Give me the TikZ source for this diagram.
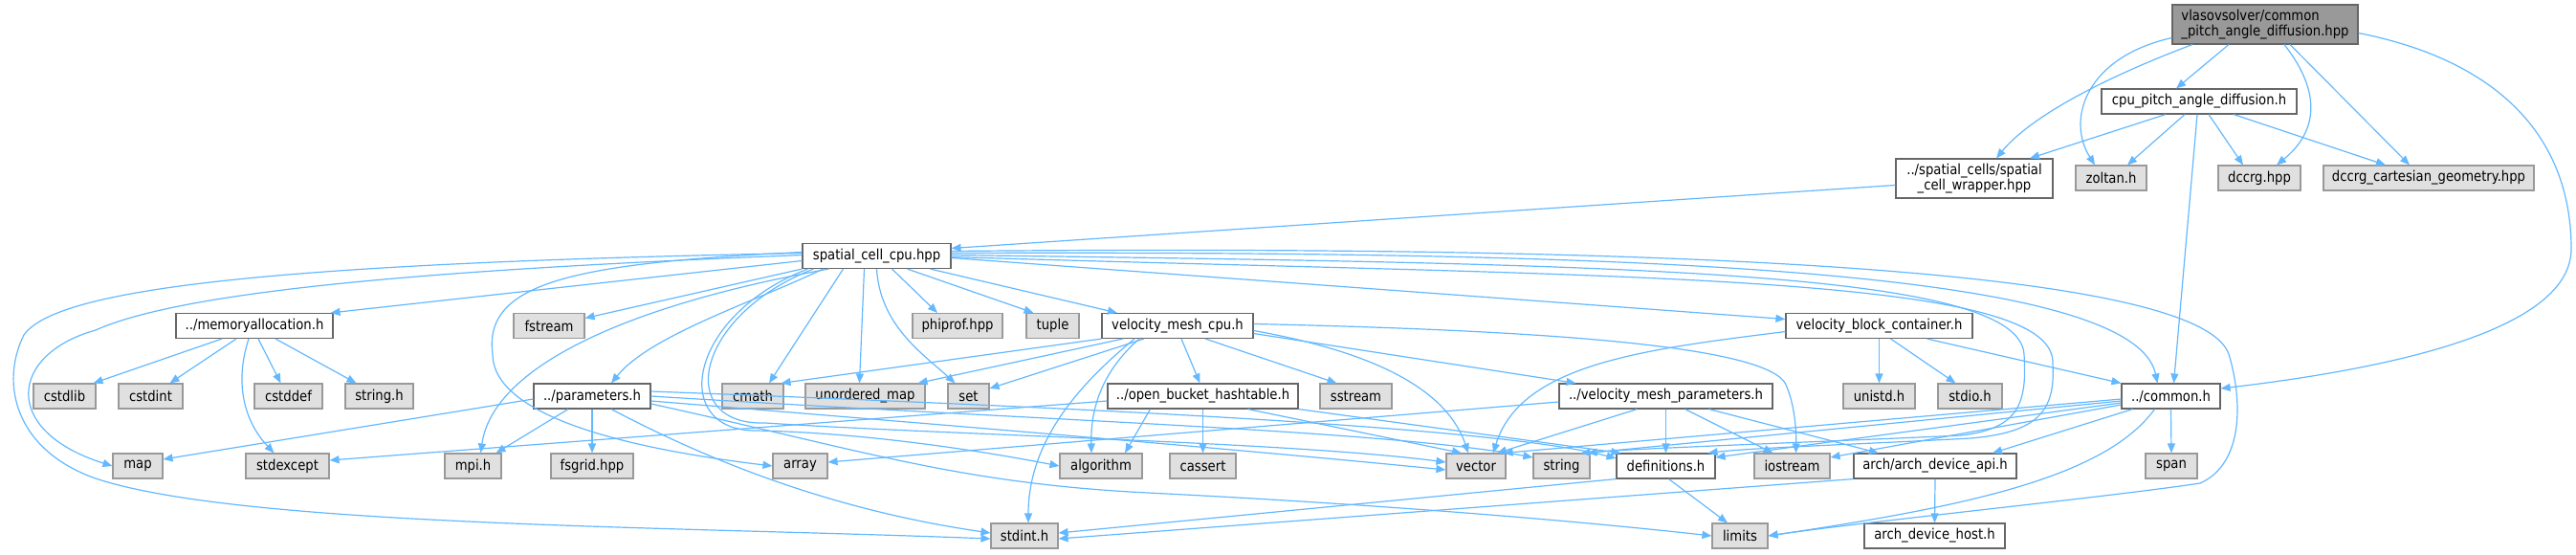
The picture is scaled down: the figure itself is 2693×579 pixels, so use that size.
\documentclass[tikz,border=0pt]{standalone}
\usepackage{fontspec}
\newfontfamily\dfont{DejaVu Sans}[FakeStretch=0.88]
\usetikzlibrary{arrows.meta}
\definecolor{edgec}{HTML}{63B8FF}
\definecolor{bdark}{HTML}{666666}
\definecolor{blight}{HTML}{999999}
\definecolor{gfill}{HTML}{E0E0E0}
\definecolor{mfill}{HTML}{999999}
\begin{document}
\begin{tikzpicture}[x=1pt,y=-1pt,
  nd/.style={rectangle, line width=1.1pt, minimum height=26pt, inner xsep=0pt, inner ysep=0pt, font=\dfont\fontsize{15}{16}\selectfont, text=black},
  filebox/.style={nd, draw=bdark, fill=white},
  sysbox/.style={nd, draw=blight, fill=gfill},
  mainbox/.style={nd, draw=bdark, fill=mfill, minimum height=41pt, align=left},
  dep/.style={draw=edgec, line width=1.2pt, -{Triangle[length=10pt,width=8pt]}},
]
\useasboundingbox (0,0) rectangle (2693,579);
% nodes
\node[mainbox, minimum width=194pt] (main) at (2368,25.5) {vlasovsolver/common\\\_pitch\_angle\_diffusion.hpp};
\node[filebox, minimum width=204pt] (cpu) at (2299,106) {cpu\_pitch\_angle\_diffusion.h};
\node[filebox, minimum width=164pt, minimum height=41pt, align=center] (wrapper) at (2064,186.5) {../spatial\_cells/spatial\\\_cell\_wrapper.hpp};
\node[sysbox, minimum width=74pt] (zoltan) at (2207,186) {zoltan.h};
\node[sysbox, minimum width=86pt] (dccrg) at (2362,186) {dccrg.hpp};
\node[sysbox, minimum width=220pt] (dcart) at (2539,186) {dccrg\_cartesian\_geometry.hpp};
\node[filebox, minimum width=155pt] (scc) at (916.5,267.5) {spatial\_cell\_cpu.hpp};
\node[filebox, minimum width=164pt] (memalloc) at (266,340.5) {../memoryallocation.h};
\node[sysbox, minimum width=74pt] (fstream) at (574,340.5) {fstream};
\node[sysbox, minimum width=94pt] (phiprof) at (1001,340.5) {phiprof.hpp};
\node[sysbox, minimum width=55pt] (tuple) at (1100.5,340.5) {tuple};
\node[filebox, minimum width=158pt] (vmcpu) at (1231,340.5) {velocity\_mesh\_cpu.h};
\node[filebox, minimum width=195pt] (vbc) at (1964.5,340.5) {velocity\_block\_container.h};
\node[sysbox, minimum width=65pt] (cstdlib) at (67.5,414) {cstdlib};
\node[sysbox, minimum width=67pt] (cstdint) at (157.5,414) {cstdint};
\node[sysbox, minimum width=71pt] (cstddef) at (301.5,414) {cstddef};
\node[sysbox, minimum width=71pt] (stringh) at (396.5,414) {string.h};
\node[filebox, minimum width=122pt] (params) at (619,414) {../parameters.h};
\node[sysbox, minimum width=64pt] (cmath) at (787,414) {cmath};
\node[sysbox, minimum width=125pt] (umap) at (904.5,414) {unordered\_map};
\node[sysbox, minimum width=43pt] (nset) at (1012.5,414) {set};
\node[filebox, minimum width=199pt] (ob) at (1257.5,414) {../open\_bucket\_hashtable.h};
\node[sysbox, minimum width=75pt] (sstream) at (1417.5,414) {sstream};
\node[filebox, minimum width=223pt] (vmp) at (1741.5,414) {../velocity\_mesh\_parameters.h};
\node[sysbox, minimum width=75pt] (unistd) at (1964.5,414) {unistd.h};
\node[sysbox, minimum width=67pt] (stdio) at (2059.5,414) {stdio.h};
\node[filebox, minimum width=103pt] (common) at (2269.5,414) {../common.h};
\node[sysbox, minimum width=52pt] (nmap) at (144,487) {map};
\node[sysbox, minimum width=87pt] (stdexcept) at (300.5,487) {stdexcept};
\node[sysbox, minimum width=59pt] (mpi) at (494.5,487) {mpi.h};
\node[sysbox, minimum width=86pt] (fsgrid) at (619,487) {fsgrid.hpp};
\node[sysbox, minimum width=57pt] (narray) at (836.5,487) {array};
\node[sysbox, minimum width=86pt] (algo) at (1151,487) {algorithm};
\node[sysbox, minimum width=69pt] (cassert) at (1257.5,487) {cassert};
\node[sysbox, minimum width=62pt] (vec) at (1543,487) {vector};
\node[sysbox, minimum width=59pt] (str) at (1632.5,487) {string};
\node[filebox, minimum width=103pt] (defs) at (1741.5,487) {definitions.h};
\node[sysbox, minimum width=79pt] (ios) at (1873.5,487) {iostream};
\node[filebox, minimum width=170pt] (archapi) at (2023,487) {arch/arch\_device\_api.h};
\node[sysbox, minimum width=54pt] (nspan) at (2270,487) {span};
\node[sysbox, minimum width=70pt] (stdint) at (1071,560) {stdint.h};
\node[sysbox, minimum width=58pt] (lim) at (1819,560) {limits};
\node[filebox, minimum width=147pt] (archhost) at (2022.5,560) {arch\_device\_host.h};
% main
\draw[dep] ([xshift=-38pt]main.south) -- ([xshift=-24pt]cpu.north);
\draw[dep] ([xshift=-76pt]main.south) .. controls (2190,85) and (2120,125) .. ([xshift=23pt]wrapper.north);
\draw[dep] ([yshift=-14pt]main.west) .. controls (2180,60) and (2160,125) .. ([xshift=-17pt]zoltan.north);
\draw[dep] ([xshift=20pt]main.south) .. controls (2430,100) and (2420,140) .. ([xshift=18pt]dccrg.north);
\draw[dep] ([xshift=26pt]main.south) -- ([xshift=-20pt]dcart.north);
\draw[dep] ([yshift=-9pt]main.east) .. controls (2620,65) and (2688,150) .. (2688,260) .. controls (2688,345) and (2500,385) .. ([yshift=8pt]common.east);
% cpu
\draw[dep] ([xshift=-35pt]cpu.south) -- ([xshift=58pt]wrapper.north);
\draw[dep] ([xshift=-15pt]cpu.south) -- ([xshift=17pt]zoltan.north);
\draw[dep] ([xshift=-2pt]cpu.south) -- ([xshift=3pt]common.north);
\draw[dep] ([xshift=10pt]cpu.south) -- ([xshift=-17pt]dccrg.north);
\draw[dep] ([xshift=36pt]cpu.south) -- ([xshift=-45pt]dcart.north);
% wrapper
\draw[dep] ([yshift=-7pt]wrapper.west) -- ([yshift=8pt]scc.east);
% spatial_cell_cpu
\draw[dep] ([yshift=-5pt]scc.west) -- ([xshift=-3pt]memalloc.north east);
\draw[dep] (scc.south west) -- ([yshift=8pt]fstream.east);
\draw[dep] ([xshift=-56pt]scc.south) .. controls (790,315) and (680,350) .. ([xshift=20pt]params.north);
\draw[dep] ([xshift=-50pt]scc.south) .. controls (650,320) and (515,385) .. ([xshift=8pt]mpi.north);
\draw[dep] ([yshift=4pt]scc.west) .. controls (600,275) and (505,295) .. (515,370) .. controls (515,420) and (600,462) .. (narray.west);
\draw[dep] ([yshift=1pt]scc.west) .. controls (500,280) and (200,300) .. (100,345) .. controls (10,370) and (0,450) .. (nmap.west);
\draw[dep] ([yshift=3pt]scc.west) .. controls (300,275) and (60,300) .. (25,350) .. controls (0,400) and (15,470) .. (100,500) .. controls (250,550) and (700,550) .. ([yshift=-3pt]stdint.west);
\draw[dep] ([xshift=-35pt]scc.south) -- ([xshift=17pt]cmath.north);
\draw[dep] ([xshift=-13pt]scc.south) -- ([xshift=-6pt]umap.north);
\draw[dep] (scc.south) .. controls (920,340) and (965,370) .. ([xshift=-14pt]nset.north);
\draw[dep] ([xshift=16pt]scc.south) -- ([xshift=-21pt]phiprof.north);
\draw[dep] ([xshift=32pt]scc.south) -- ([xshift=-20pt]tuple.north);
\draw[dep] ([xshift=56pt]scc.south) -- ([xshift=-63pt]vmcpu.north);
\draw[dep] ([yshift=-2pt]scc.east) -- ([yshift=7pt]vbc.west);
\draw[dep] ([yshift=3pt]scc.east) .. controls (1700,262) and (2230,280) .. ([xshift=-14pt]common.north);
\draw[dep] ([yshift=5pt]scc.east) .. controls (1800,255) and (2300,285) .. (2330,370) .. controls (2345,420) and (2345,485) .. (2300,505) .. controls (2200,520) and (1950,545) .. (lim.east);
\draw[dep] ([yshift=1pt]scc.east) .. controls (1700,276) and (2110,282) .. (2116,370) .. controls (2119,420) and (2112,448) .. (2050,455) .. controls (1900,462) and (1720,468) .. ([xshift=20pt]str.north);
\draw[dep] ([yshift=-1pt]scc.east) .. controls (1700,290) and (2150,285) .. (2146,380) .. controls (2149,430) and (2130,452) .. (2060,458) .. controls (1950,464) and (1830,468) .. ([xshift=-8pt]defs.north east);
\draw[dep] ([xshift=-66pt]scc.south) .. controls (725,330) and (705,445) .. (800,442) .. controls (1000,455) and (1350,462) .. ([yshift=4pt]vec.west);
\draw[dep] ([xshift=-72pt]scc.south) .. controls (718,330) and (700,450) .. (790,450) .. controls (900,452) and (1020,470) .. (algo.west);
% parameters
\draw[dep] ([yshift=-3pt]params.west) -- ([yshift=7pt]nmap.east);
\draw[dep] ([xshift=-25pt]params.south) -- ([xshift=24pt]mpi.north);
\draw[dep] (params.south) -- (fsgrid.north);
\draw[dep] ([xshift=20pt]params.south) .. controls (720,470) and (850,530) .. ([yshift=3pt]stdint.west);
\draw[dep] ([yshift=-8pt]params.east) .. controls (900,470) and (1000,505) .. (1200,515) .. controls (1500,530) and (1700,550) .. (lim.west);
\draw[dep] ([yshift=-5pt]params.east) .. controls (1000,445) and (1300,470) .. ([yshift=-4pt]vec.west);
\draw[dep] (params.east) .. controls (1100,440) and (1450,450) .. ([yshift=9pt]str.west);
\draw[dep] ([yshift=5pt]params.east) .. controls (1100,425) and (1560,445) .. ([yshift=8pt]defs.west);
% memoryallocation
\draw[dep] ([xshift=-34pt]memalloc.south) -- ([xshift=-3pt]cstdlib.north east);
\draw[dep] ([xshift=-19pt]memalloc.south) -- ([xshift=20pt]cstdint.north);
\draw[dep] ([xshift=-6pt]memalloc.south) .. controls (245,400) and (255,440) .. ([xshift=-14pt]stdexcept.north);
\draw[dep] ([xshift=4pt]memalloc.south) -- ([xshift=-8pt]cstddef.north);
\draw[dep] ([xshift=22pt]memalloc.south) -- ([xshift=-24pt]stringh.north);
% open_bucket_hashtable
\draw[dep] ([yshift=-5pt]ob.west) -- ([yshift=6pt]stdexcept.east);
\draw[dep] ([xshift=-55pt]ob.south) -- ([xshift=25pt]algo.north);
\draw[dep] (ob.south) -- (cassert.north);
\draw[dep] ([xshift=47pt]ob.south) -- ([xshift=-15pt]vec.north);
\draw[dep] (ob.south east) -- ([xshift=5pt]defs.north west);
% velocity_mesh_cpu
\draw[dep] (vmcpu.south west) -- ([xshift=-3pt]cmath.north east);
\draw[dep] ([xshift=-57pt]vmcpu.south) -- ([xshift=-8pt]umap.north east);
\draw[dep] ([xshift=-35pt]vmcpu.south) -- ([yshift=8pt]nset.east);
\draw[dep] ([xshift=4pt]vmcpu.south) -- ([xshift=-3pt]ob.north);
\draw[dep] ([xshift=29pt]vmcpu.south) -- ([xshift=-20pt]sstream.north);
\draw[dep] ([yshift=-8pt]vmcpu.east) -- ([xshift=-94pt]vmp.north);
\draw[dep] ([yshift=2pt]vmcpu.east) .. controls (1600,345) and (1840,360) .. (1866,400) .. controls (1876,420) and (1878,450) .. ([xshift=4pt]ios.north);
\draw[dep] ([xshift=-40pt]vmcpu.south) .. controls (1150,390) and (1140,430) .. ([xshift=-10pt]algo.north);
\draw[dep] ([xshift=-45pt]vmcpu.south) .. controls (1130,400) and (1075,460) .. ([xshift=4pt]stdint.north);
\draw[dep] ([yshift=-5pt]vmcpu.east) .. controls (1420,365) and (1510,400) .. ([xshift=-8pt]vec.north);
% velocity_mesh_parameters
\draw[dep] ([yshift=-6pt]vmp.west) -- ([yshift=4pt]narray.east);
\draw[dep] ([xshift=-30pt]vmp.south) -- ([xshift=22pt]vec.north);
\draw[dep] (vmp.south) -- (defs.north);
\draw[dep] ([xshift=20pt]vmp.south) -- ([xshift=-20pt]ios.north);
\draw[dep] ([xshift=45pt]vmp.south) -- ([xshift=-59pt]archapi.north);
% velocity_block_container
\draw[dep] ([yshift=-6pt]vbc.west) .. controls (1720,365) and (1590,380) .. ([xshift=18pt]vec.north);
\draw[dep] (vbc.south) -- (unistd.north);
\draw[dep] ([xshift=12pt]vbc.south) -- ([xshift=-15pt]stdio.north);
\draw[dep] ([xshift=50pt]vbc.south) -- (common.north west);
% common
\draw[dep] (common.south) -- (nspan.north);
\draw[dep] ([xshift=-40pt]common.south) -- ([xshift=60pt]archapi.north);
\draw[dep] ([xshift=-17pt]common.south) .. controls (2200,500) and (2050,530) .. (lim.east);
\draw[dep] ([yshift=-3pt]common.west) -- ([xshift=-3pt]vec.north east);
\draw[dep] ([yshift=-5pt]common.west) -- ([xshift=-3pt]str.north east);
\draw[dep] ([yshift=-7pt]common.west) -- ([yshift=9pt]defs.east);
\draw[dep] ([yshift=-9pt]common.west) -- ([yshift=9pt]ios.east);
% definitions
\draw[dep] (defs.south west) -- ([yshift=3pt]stdint.east);
\draw[dep] ([xshift=3pt]defs.south) -- ([xshift=-13pt]lim.north);
% arch
\draw[dep] (archapi.south) -- (archhost.north);
\draw[dep] (archapi.south west) -- ([yshift=-3pt]stdint.east);
\end{tikzpicture}
\end{document}
